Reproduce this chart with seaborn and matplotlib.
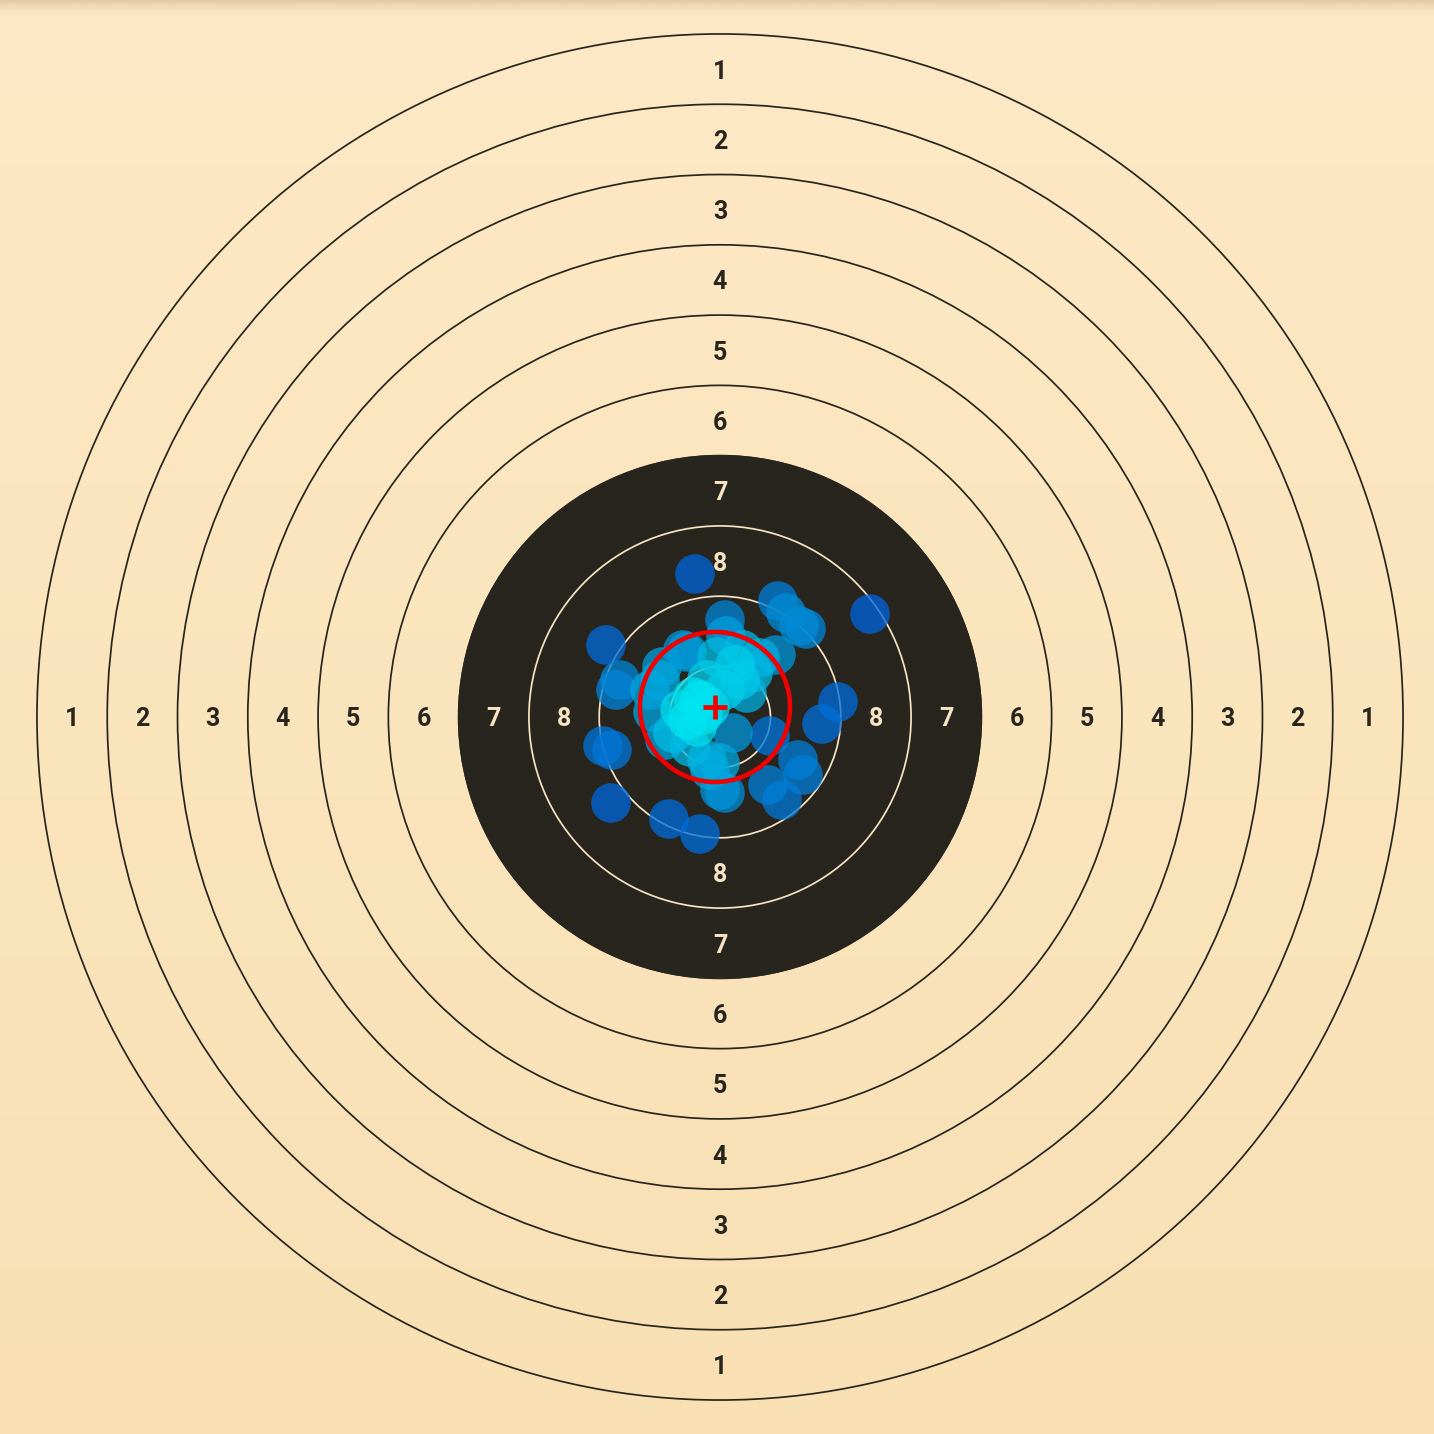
import matplotlib
matplotlib.use("Agg")
import matplotlib.pyplot as plt
import numpy as np
import seaborn as sns
from matplotlib.colors import LinearSegmentedColormap
from matplotlib.patches import Circle

# 10 m air pistol target, all values in mm from the target centre
ring_scores = [1, 2, 3, 4, 5, 6, 7, 8, 9, 10]
ring_radii = [77.75, 69.75, 61.75, 53.75, 45.75, 37.75, 29.75, 21.75, 13.75, 5.75]
label_scores = [1, 2, 3, 4, 5, 6, 7, 8]
label_radii = [73.75, 65.75, 57.75, 49.75, 41.75, 33.75, 25.75, 17.75]
black_radius = 29.75
pellet_radius = 2.25

# shot positions (mm)
shot_x = [-2.85, -12.98, -11.38, -11.84, -13.32, -12.29, -12.41, -5.81, -2.28, 6.60,
          7.51, 9.00, 9.79, 17.08, 13.43, 11.61, 5.69, 8.88, 9.45, 5.46,
          7.06, 0.57, 0.68, 6.37, 4.55, 2.62, 3.76, 1.48, 0.00, 0.57,
          0.00, -4.21, -6.60, -7.63, -6.26, -1.14, -3.76, -6.83, -0.34, 2.28,
          3.07, -1.48, -3.07, -1.14, -4.55, -5.35, -2.62, -3.41, -1.48, -7.97,
          -2.28, -1.94, -3.64, 0.57, 1.71]
shot_y = [16.28, 8.20, 4.21, 3.07, -3.30, -3.76, -9.79, -11.61, -13.32, 13.20,
          11.84, 10.36, 10.02, 11.72, 1.71, -0.80, -2.16, -4.89, -6.60, -7.74,
          -9.45, 11.04, 9.22, 7.06, 6.72, 7.63, 5.01, -1.82, -5.24, -8.65,
          -8.31, 7.63, 5.69, 0.57, -2.62, -6.03, 7.40, 4.21, 6.83, 4.21,
          2.73, 4.21, 2.28, 1.14, 0.80, -1.82, -1.14, -3.41, -4.89, 3.07,
          1.94, 0.23, -0.34, 3.07, 5.92]

# group centre and spread circle
group_x = -0.57
group_y = 1.14
group_radius = 8.54

bg_top = "#fde9c5"
bg_bottom = "#f8e0b4"
ink = "#28251e"
cream = "#f6e4c2"

sns.set_theme(style="white")
plt.rcParams["font.family"] = ["Roboto", "DejaVu Sans"]

fig = plt.figure(figsize=(14.34, 14.34), dpi=100)
ax = fig.add_axes([0, 0, 1, 1])
px = 8.785  # pixels per mm
ax.set_xlim(-720 / px, (1434 - 720) / px)
ax.set_ylim(-(1434 - 717) / px, 717 / px)
ax.set_aspect("equal")
ax.axis("off")

# paper background with a soft shadow along the top edge
xl, yl = ax.get_xlim(), ax.get_ylim()
grad = np.linspace(0, 1, 400)[:, None]
bg_cmap = LinearSegmentedColormap.from_list("bg", [bg_bottom, bg_top])
ax.imshow(grad, cmap=bg_cmap, extent=[xl[0], xl[1], yl[0], yl[1]],
          origin="lower", aspect="auto", zorder=0)
shade = np.zeros((60, 2, 4))
shade[..., :3] = np.array([150, 120, 70]) / 255
shade[..., 3] = np.linspace(0, 0.45, 60)[:, None] ** 1.6
ax.imshow(shade, extent=[xl[0], xl[1], yl[1] - 16 / px, yl[1]],
          origin="lower", aspect="auto", zorder=1)

# black aiming area and rings
ax.add_patch(Circle((0, 0), black_radius, color=ink, zorder=2))
for score, r in zip(ring_scores, ring_radii):
    col = cream if r < black_radius - 0.1 else ink
    ax.add_patch(Circle((0, 0), r, fill=False, ec=col, lw=1.25, zorder=3))

for score, r in zip(label_scores, label_radii):
    col = cream if r < black_radius else ink
    for dx, dy in [(0, 1), (0, -1), (-1, 0), (1, 0)]:
        ax.text(dx * r, dy * r, str(score), ha="center", va="center_baseline",
                fontsize=18, fontweight="bold", color=col, zorder=4)

# shots coloured by how crowded their neighbourhood is
sx = np.array(shot_x)
sy = np.array(shot_y)
d2 = (sx[:, None] - sx[None, :]) ** 2 + (sy[:, None] - sy[None, :]) ** 2
density = np.exp(-d2 / (2 * 2.6 ** 2)).sum(axis=1)
order = np.argsort(density)
shot_cmap = LinearSegmentedColormap.from_list(
    "shots", ["#0064dc", "#008cd6", "#00b8e2", "#00ecf4"])
pt_diam = 2 * pellet_radius * px * 72 / 100
sns.scatterplot(x=sx[order], y=sy[order], hue=density[order], palette=shot_cmap,
                hue_norm=(1.0, density.max() * 1.05),
                s=pt_diam ** 2, alpha=0.76, linewidth=0, legend=False,
                ax=ax, zorder=5)

ax.add_patch(Circle((group_x, group_y), group_radius, fill=False,
                    ec="#f00000", lw=3.3, zorder=6))
ax.plot([group_x], [group_y], marker="+", color="#f00000", markersize=17,
        mew=3.4, zorder=7)

fig.savefig("out.png", dpi=100)
